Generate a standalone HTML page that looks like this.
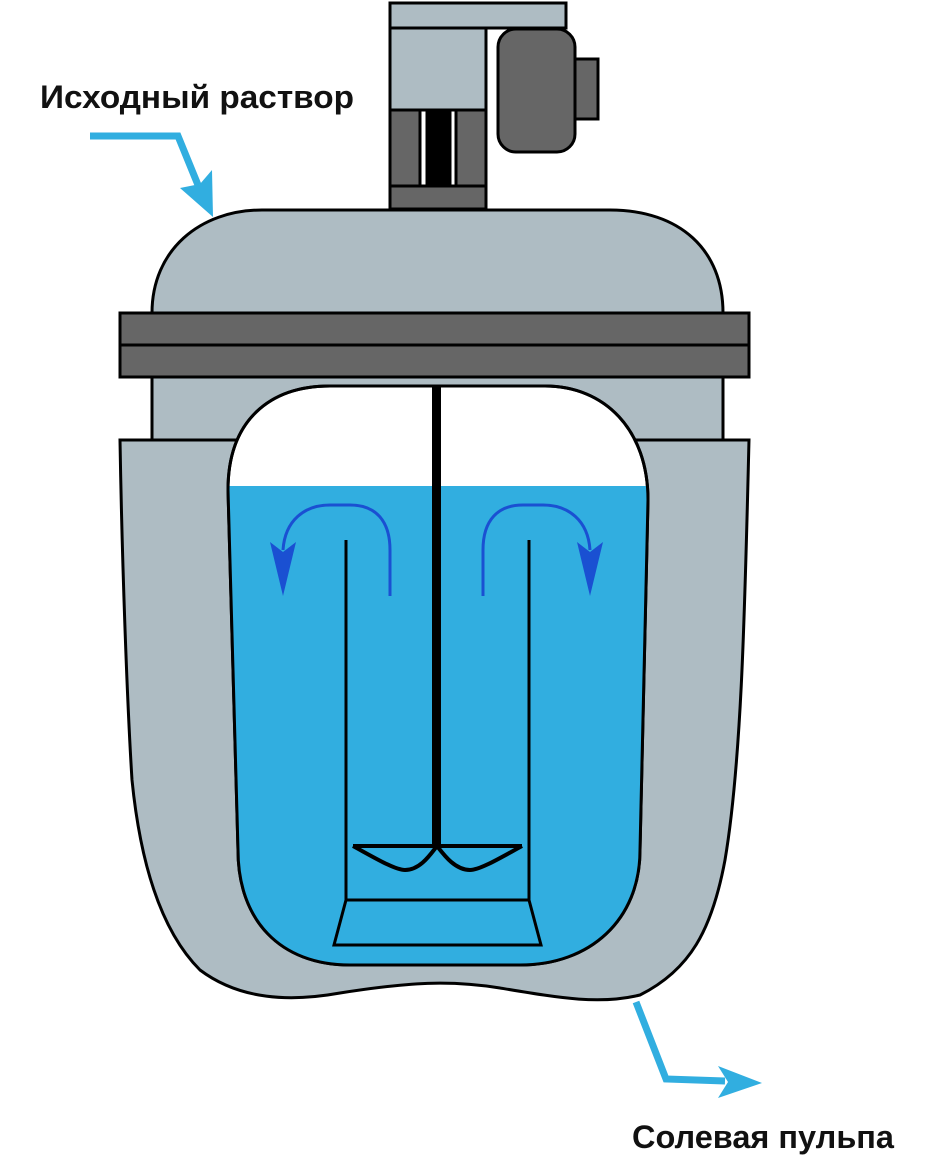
<!DOCTYPE html>
<html><head><meta charset="utf-8"><style>
html,body{margin:0;padding:0;background:#fff;}
svg{display:block;}
text{font-family:"Liberation Sans",sans-serif;font-weight:bold;font-size:32px;fill:#111;}
</style></head><body>
<svg width="938" height="1159" viewBox="0 0 938 1159" xmlns="http://www.w3.org/2000/svg">
<g stroke="#000" stroke-width="3">
<rect x="390" y="3" width="176" height="25" fill="#aebcc3"/>
<rect x="390" y="28" width="96" height="82" fill="#aebcc3"/>
<rect x="390" y="110" width="30" height="76" fill="#666"/>
<rect x="456" y="110" width="30" height="76" fill="#666"/>
<rect x="427" y="110" width="23" height="76" fill="#000"/>
<rect x="390" y="186" width="96" height="23" fill="#666"/>
<rect x="575" y="59" width="23" height="60" fill="#666"/>
<rect x="498" y="29" width="77" height="123" rx="18" fill="#666"/>
<path d="M152,313 C152,250 200,210 262,210 L610,210 C680,210 723,250 723,313 Z" fill="#aebcc3"/>
<rect x="152" y="377" width="571" height="70" fill="#aebcc3"/>
<rect x="120" y="313" width="629" height="32" fill="#666"/>
<rect x="120" y="345" width="629" height="32" fill="#666"/>
<path d="M120,440 L749,440 C745,600 742,760 725,860 C712,930 690,970 640,995 C600,1005 560,998 500,988 C450,980 410,982 340,993 C290,1002 240,1000 200,970 C160,930 140,860 132,780 C127,700 122,560 120,440 Z" fill="#aebcc3"/>
<path d="M228,490 C228,420 270,386 330,386 L545,386 C605,386 648,430 648,500 L640,850 C640,920 590,965 520,965 L350,965 C280,965 238,920 238,850 Z" fill="#fff"/>
</g>
<path d="M229,486 L648,486 L648,500 L640,850 C640,920 590,964 520,964 L350,964 C280,964 239,920 239,850 L229,500 Z" fill="#31aee0"/>
<path d="M228,490 C228,420 270,386 330,386 L545,386 C605,386 648,430 648,500 L640,850 C640,920 590,965 520,965 L350,965 C280,965 238,920 238,850 Z" fill="none" stroke="#000" stroke-width="3"/>
<g stroke="#000" fill="none">
<rect x="432" y="386" width="9" height="460" fill="#000" stroke="none"/>
<path d="M346,540 L346,900 L529,900 L529,540 M346,900 L334,945 L541,945 L529,900" stroke-width="3"/>
<path d="M353,846 L522,846 M353,846 C375,858 395,870 405,870 C420,870 430,855 437,846 C444,855 455,870 470,870 C480,870 500,858 522,846" stroke-width="4"/>
</g>
<g stroke="#1a50d2" stroke-width="3" fill="none">
<path d="M390,596 L390,550 C390,520 375,505 350,505 L330,505 C305,505 285,520 283,550"/>
<path d="M483,596 L483,550 C483,520 498,505 523,505 L543,505 C568,505 588,520 590,550"/>
</g>
<path d="M270,542 L283,552 L296,542 L283,596 Z" fill="#1a50d2"/>
<path d="M577,542 L590,552 L603,542 L590,596 Z" fill="#1a50d2"/>
<g stroke="#31aee0" stroke-width="7" fill="none">
<polyline points="90,136 178,136 198,185"/>
<polyline points="636,1002 666,1079 725,1081"/>
</g>
<path d="M180,188 L213,217 L212,170 L200,184 Z" fill="#31aee0"/>
<path d="M718,1066 L762,1083 L718,1098 L728,1082 Z" fill="#31aee0"/>
<text x="40" y="108" textLength="314" lengthAdjust="spacingAndGlyphs">Исходный раствор</text>
<text x="632" y="1148" textLength="262" lengthAdjust="spacingAndGlyphs">Солевая пульпа</text>
</svg>
</body></html>
